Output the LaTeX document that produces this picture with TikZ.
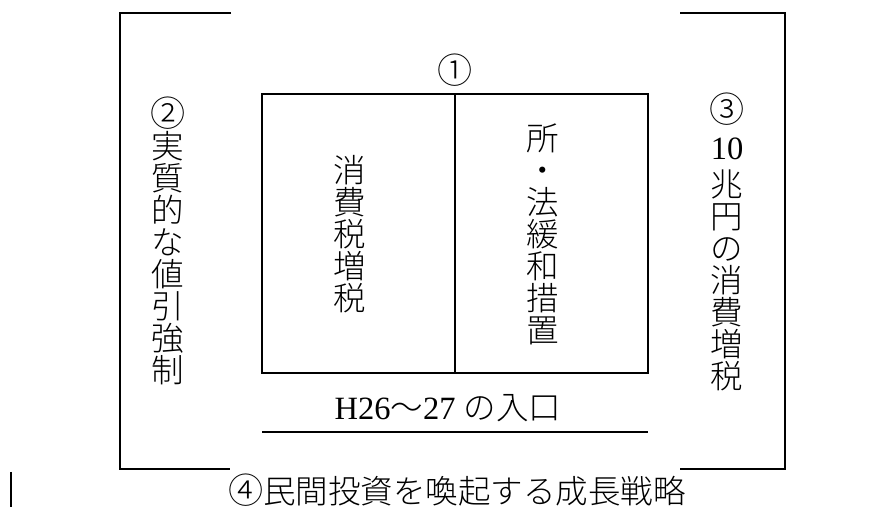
\documentclass[tikz,border=0pt]{standalone}
\usepackage{fontspec}
\setmainfont{Liberation Serif}
\newfontfamily\jpfont{Noto Sans CJK JP Light}
\newcommand{\bigsize}{\fontsize{18.5}{18.2}\selectfont}
\newcommand{\circnum}[1]{{\fontsize{20}{18.2}\selectfont\jpfont #1}}

\begin{document}
\begin{tikzpicture}
[
    frame/.style={line width=1.1pt},
    column/.style={align=center,inner sep=0pt,font=\bigsize\jpfont},
    caption/.style={inner sep=0pt,font=\bigsize},
]
\useasboundingbox (0,0) rectangle (17.56,10.14);

% outer brackets
\draw[frame] (4.62,9.88) -- (2.4,9.88) -- (2.4,0.76) -- (4.6,0.76);
\draw[frame] (13.6,9.88) -- (15.7,9.88) -- (15.7,0.76) -- (13.6,0.76);

% inner box
\draw[frame] (5.24,2.68) rectangle (12.96,8.26);
\draw[frame] (9.1,2.68) -- (9.1,8.26);

\node (one) at (9.1,8.74) [caption] {\circnum{①}};
\node (two) at (3.36,5.32) [column] {\circnum{②}\\実\\質\\的\\な\\値\\引\\強\\制};
\node (three) at (14.54,5.30) [column] {\circnum{③}\\[2.5pt]{\rmfamily 10}\\[3pt]兆\\円\\の\\消\\費\\増\\税};

\node (tax) at (7.0,5.46) [column] {消\\費\\税\\増\\税};
\node (relief) at (10.86,5.45) [column] {所\\・\\法\\緩\\和\\措\\置};

\node (entry) at (8.96,1.98) [caption] {H26{\jpfont ～}27 {\jpfont の入口}};
\draw[line width=1.4pt] (5.24,1.5) -- (12.96,1.5);

\node (growth) at (9.14,0.34) [caption] {\circnum{④}{\jpfont 民間投資を喚起する成長戦略}};

\draw[line width=0.6pt] (0.22,0.7) -- (0.22,0);
\end{tikzpicture}
\end{document}
